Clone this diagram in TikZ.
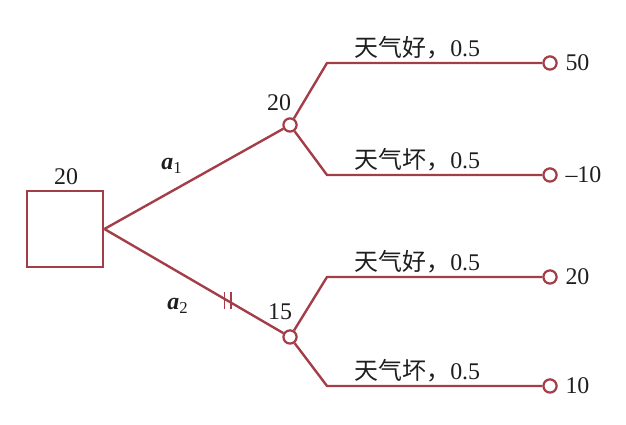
\documentclass[tikz,border=0pt]{standalone}
\usepackage{fontspec}
\setmainfont{Liberation Serif}
\newfontfamily\cjk{Noto Sans CJK SC}
\usetikzlibrary{positioning}
\definecolor{branch}{RGB}{163,62,72}
\definecolor{ink}{RGB}{30,30,30}
\tikzset{
	every node/.style={text=ink, font=\fontsize{17}{20}\selectfont},
	edge line/.style={draw=branch, line width=1.7pt},
	decision/.style={
			rectangle,
			draw=branch,
			line width=2pt,
			minimum size=1.9cm,
			inner sep=0pt
		},
	chance/.style={
			circle,
			draw=branch,
			line width=1.6pt,
			fill=white,
			minimum size=0.33cm,
			inner sep=0pt
		},
	bar/.style={draw=branch, line width=1.4pt},
	weather/.style={above, inner sep=2pt}
}

\begin{document}
\begin{tikzpicture}[x=0.025cm, y=-0.025cm]
	\useasboundingbox (0,0) rectangle (626,425);

	% decision node
	\node[decision] at (65,229) (dec) {};
	\node at (66,177) (decval) {20};

	% chance nodes with expected values
	\node[chance] at (290,125) (up) {};
	\node[chance] at (290,337) (low) {};
	\node at (279,103) (upval) {20};
	\node at (280,312) (lowval) {15};

	% corners of the state branches
	\coordinate (c1) at (327,63);
	\coordinate (c2) at (327,175);
	\coordinate (c3) at (327,277);
	\coordinate (c4) at (327,386);

	% end points and payoffs
	\node[chance] at (550,63) (e1) {};
	\node[chance] at (550,175) (e2) {};
	\node[chance] at (550,277) (e3) {};
	\node[chance] at (550,386) (e4) {};
	\node[right=2pt of e1] (p1) {50};
	\node[right=2pt of e2] (p2) {--10};
	\node[right=2pt of e3] (p3) {20};
	\node[right=2pt of e4] (p4) {10};

	% action branches, a2 is cut off
	\draw[edge line] (dec.east) -- (up);
	\draw[edge line] (dec.east) -- coordinate[pos=.69] (cut) (low);
	\draw[bar] ([xshift=-2.4pt,yshift=-6pt]cut) -- ([xshift=-2.4pt,yshift=6pt]cut);
	\draw[bar] ([xshift=2.4pt,yshift=-6pt]cut) -- ([xshift=2.4pt,yshift=6pt]cut);
	\node at (172,166) (a1) {{\bfseries\itshape a}\textsubscript{1}};
	\node at (178,306) (a2) {{\bfseries\itshape a}\textsubscript{2}};

	% state branches
	\draw[edge line] (up) -- (c1) -- node[weather, pos=.42] {{\cjk 天气好，}0.5} (e1);
	\draw[edge line] (up) -- (c2) -- node[weather, pos=.42] {{\cjk 天气坏，}0.5} (e2);
	\draw[edge line] (low) -- (c3) -- node[weather, pos=.42] {{\cjk 天气好，}0.5} (e3);
	\draw[edge line] (low) -- (c4) -- node[weather, pos=.42] {{\cjk 天气坏，}0.5} (e4);
\end{tikzpicture}
\end{document}
